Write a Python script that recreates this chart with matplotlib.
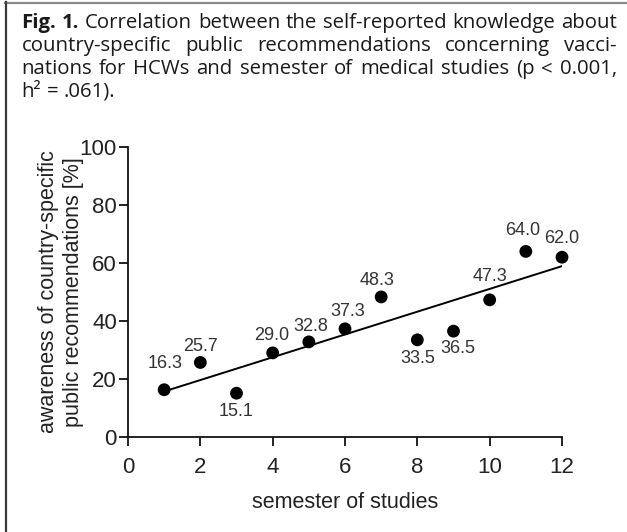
import numpy as np
import matplotlib
matplotlib.use("Agg")
import matplotlib.pyplot as plt
from matplotlib.lines import Line2D
from matplotlib import font_manager as fm

# --- data ---
semester = [1, 2, 3, 4, 5, 6, 7, 8, 9, 10, 11, 12]
awareness = [16.3, 25.7, 15.1, 29.0, 32.8, 37.3, 48.3, 33.5, 36.5, 47.3, 64.0, 62.0]
value_labels = ["16.3", "25.7", "15.1", "29.0", "32.8", "37.3",
                "48.3", "33.5", "36.5", "47.3", "64.0", "62.0"]
x_ticks = [0, 2, 4, 6, 8, 10, 12]
y_ticks = [0, 20, 40, 60, 80, 100]

caption_lines = [
    [("Fig.", "bold"), ("1.", "bold"), ("Correlation", "normal"), ("between", "normal"),
     ("the", "normal"), ("self-reported", "normal"), ("knowledge", "normal"), ("about", "normal")],
    "country-specific public recommendations concerning vacci-",
    "nations for HCWs and semester of medical studies (p < 0.001,",
    "h\u00b2 = .061).",
]

# label offsets in pixels (dx, dy) from the dot centre
label_off = [(1, 26), (0, 16), (0, -18), (-1, 17), (2, 15), (3, 17),
             (-4, 16), (0, -19), (4, -17), (0, 23), (-3, 21), (0, 19)]

W, H = 627, 532
fig = plt.figure(figsize=(W / 100, H / 100), dpi=100)
fig.patch.set_facecolor("white")

# frame: top and left edges only
fig.add_artist(Line2D([5 / W, 1], [1 - 2.5 / H] * 2, transform=fig.transFigure,
                      color="#8a8a8a", lw=1.6))
fig.add_artist(Line2D([5.5 / W] * 2, [0, 1 - 2 / H], transform=fig.transFigure,
                      color="#3a3a3a", lw=1.6))

# --- caption font: the original uses a narrow humanist face ---
fonts = [(f.name, f.stretch) for f in fm.fontManager.ttflist]
cap_font, cap_stretch = "Lato", "normal"
for fam in ["Noto Sans", "Open Sans", "DejaVu Sans"]:
    if any(n == fam and st in ("condensed", "semi-condensed", 75, 87.5) for n, st in fonts):
        cap_font, cap_stretch = fam, "semi-condensed"
        break
else:
    if any(n == "Liberation Sans Narrow" for n, _ in fonts):
        cap_font = "Liberation Sans Narrow"

cap_color = "#1a1a1a"
left_px, right_px = 21.5, 617.0
baselines = [28, 51, 74, 97]
renderer = fig.canvas.get_renderer()


def make_words(line):
    if isinstance(line, str):
        return [(w, "normal") for w in line.split(" ")]
    return line


def measure(words, size):
    ws = []
    for w, wt in words:
        t = fig.text(0, 0, w, fontsize=size, family=cap_font, weight=wt,
                     fontstretch=cap_stretch)
        ws.append(t.get_window_extent(renderer=renderer).width)
        t.remove()
    return ws


# pick a size so the first line fills the measure naturally
probe = fig.text(0, 0, "a a", fontsize=14, family=cap_font, fontstretch=cap_stretch)
pa = fig.text(0, 0, "aa", fontsize=14, family=cap_font, fontstretch=cap_stretch)
space14 = (probe.get_window_extent(renderer=renderer).width
           - pa.get_window_extent(renderer=renderer).width)
probe.remove()
pa.remove()
w14 = measure(make_words(caption_lines[0]), 14)
nat = sum(w14) + space14 * (len(w14) - 1)
cap_size = 14 * (right_px - left_px) / nat
space = space14 * cap_size / 14
w3 = measure(make_words(caption_lines[2]), cap_size)
nat3 = sum(w3) + space * (len(w3) - 1)
if nat3 > right_px - left_px:
    cap_size *= (right_px - left_px) / nat3
    space = space14 * cap_size / 14

for i, line in enumerate(caption_lines):
    words = make_words(line)
    widths = measure(words, cap_size)
    if i < len(caption_lines) - 1:
        gap = (right_px - left_px - sum(widths)) / (len(words) - 1)
    else:
        gap = space
    x = left_px
    for (w, wt), wd in zip(words, widths):
        fig.text(x / W, 1 - baselines[i] / H, w, fontsize=cap_size, family=cap_font,
                 fontstretch=cap_stretch, weight=wt, color=cap_color,
                 va="baseline", ha="left")
        x += wd + gap

# --- scatter plot ---
ax = fig.add_axes([128 / W, 1 - 437 / H, (562 - 128) / W, (437 - 147) / H])
ax.set_xlim(0, 12)
ax.set_ylim(0, 100)

ax.scatter(semester, awareness, s=85, color="black", zorder=3, clip_on=False,
           edgecolors="none")
m, b = np.polyfit(semester, awareness, 1)
xs = np.array([min(semester), max(semester)])
ax.plot(xs, m * xs + b, color="black", lw=1.4, zorder=2)

for xv, yv, lab, (dx, dy) in zip(semester, awareness, value_labels, label_off):
    ax.annotate(lab, (xv, yv), xytext=(dx, dy), textcoords="offset pixels",
                ha="center", va="center", fontsize=13, color="#333333",
                family="Liberation Sans")

for s in ["top", "right"]:
    ax.spines[s].set_visible(False)
for s in ["left", "bottom"]:
    ax.spines[s].set_linewidth(1.3)
    ax.spines[s].set_color("#111111")

ax.set_xticks(x_ticks)
ax.set_yticks(y_ticks)
ax.tick_params(axis="both", direction="out", length=6.5, width=1.3,
               color="#111111", labelsize=16, labelcolor="#222222")
ax.tick_params(axis="x", pad=8)
ax.tick_params(axis="y", pad=1.5)
for lab in ax.get_xticklabels() + ax.get_yticklabels():
    lab.set_family("Liberation Sans")

ax.set_xlabel("semester of studies", fontsize=15.5, family="Liberation Sans",
              color="#222222", labelpad=10)
ax.set_ylabel("awareness of country-specific\npublic recommendations [%]",
              fontsize=15.5, family="Liberation Sans", color="#222222",
              labelpad=-3, linespacing=1.22)

fig.savefig("out.png", dpi=100, facecolor="white")
